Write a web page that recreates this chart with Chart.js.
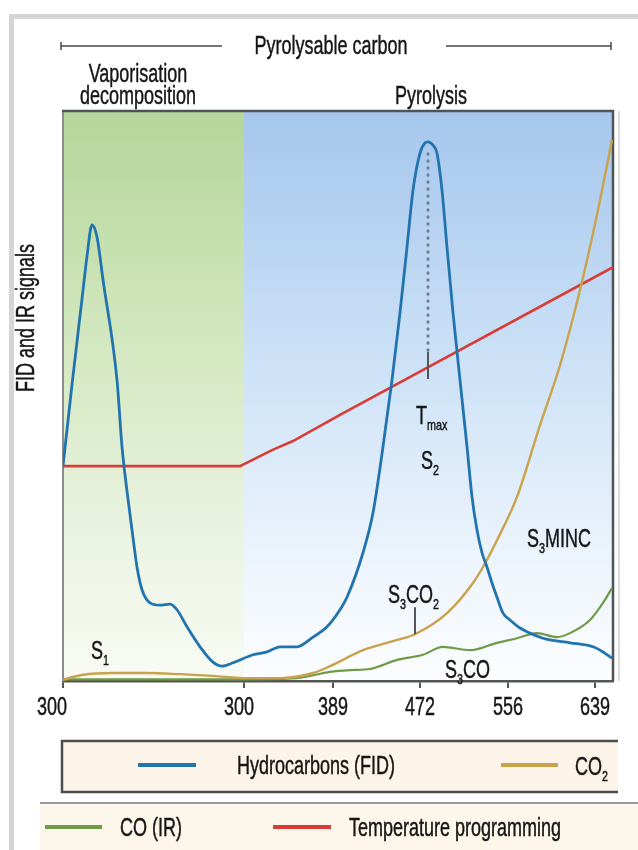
<!DOCTYPE html>
<html>
<head>
<meta charset="utf-8">
<title>Pyrolysis signals</title>
<script src="https://cdn.jsdelivr.net/npm/chart.js"></script>
<style>
  body { margin: 0; background: #fff; }
  canvas { display: block; }
</style>
</head>
<body>
<canvas id="chart" width="638" height="850"></canvas>
<script>
// x axis runs along the temperature programme, ticks are labelled in deg C
const tickPos = [0, 181, 270, 357, 445, 532];
const tickLabels = ['300', '300', '389', '472', '556', '639'];

const fidX = [0, 9, 19, 24, 29, 34, 40, 54, 59, 64, 69, 74, 79, 87, 97, 107, 114, 124, 137, 150, 159, 170, 190, 204, 217, 234, 250, 264, 277, 284, 300, 310, 320, 329, 337, 344, 350, 357, 362, 365, 370, 374, 379, 384, 390, 397, 404, 409, 414, 419, 424, 429, 434, 440, 447, 457, 467, 480, 487, 507, 530, 540, 549];
const fidY = [37.7, 52.0, 67.0, 74.5, 80.0, 77.9, 70.4, 52.8, 41.1, 33.3, 26.5, 20.0, 16.0, 13.7, 13.3, 13.5, 12.5, 9.5, 6.0, 3.3, 2.6, 3.2, 4.6, 5.1, 6.0, 6.0, 7.7, 9.5, 12.5, 14.7, 22.5, 29.5, 41.1, 52.8, 64.6, 76.1, 86.1, 92.6, 94.4, 94.6, 94.0, 92.6, 86.1, 76.1, 64.6, 52.8, 41.1, 32.3, 26.5, 22.5, 20.0, 17.2, 14.7, 11.9, 10.7, 9.3, 8.4, 7.5, 7.2, 6.7, 6.0, 5.1, 4.0];

const co2X = [0, 20, 50, 84, 117, 150, 184, 217, 250, 267, 300, 334, 352, 384, 410, 420, 434, 454, 477, 497, 517, 534, 549];
const co2Y = [0.2, 1.1, 1.4, 1.4, 1.2, 0.9, 0.5, 0.5, 1.4, 2.6, 5.4, 7.2, 8.2, 11.9, 17.2, 20.0, 24.7, 32.3, 44.9, 55.4, 68.6, 81.8, 94.9];

const coX = [0, 87, 184, 234, 267, 287, 307, 334, 360, 380, 407, 434, 454, 474, 494, 507, 527, 540, 549];
const coY = [0.3, 0.3, 0.3, 0.5, 1.6, 1.9, 2.1, 3.7, 4.6, 6.0, 5.4, 6.7, 7.5, 8.4, 7.7, 8.4, 10.7, 13.7, 16.3];

const tempX = [0, 177, 209, 230, 277, 550];
const tempY = [37.7, 37.7, 40.5, 42.1, 46.7, 72.6];

const FONT = '"Liberation Sans", Arial, sans-serif';
const SIZE = 25;
const SQUEEZE = 0.72;

function pts(xs, ys) {
    return xs.map((x, i) => ({ x: x, y: ys[i] }));
}

function say(ctx, s, x, y, size, align) {
    ctx.save();
    ctx.font = size + 'px ' + FONT;
    ctx.fillStyle = '#161616';
    ctx.strokeStyle = '#161616';
    ctx.lineWidth = 0.45;
    ctx.textAlign = align || 'left';
    ctx.textBaseline = 'alphabetic';
    ctx.translate(x, y);
    ctx.scale(SQUEEZE, 1);
    ctx.fillText(s, 0, 0);
    ctx.strokeText(s, 0, 0);
    const w = ctx.measureText(s).width * SQUEEZE;
    ctx.restore();
    return w;
}

// text with subscripts: parts like [['S', 0], ['3', 1], ['CO', 0]]
function sayParts(ctx, parts, x, y, size) {
    let cx = x;
    parts.forEach(p => {
        if (p[1]) cx += say(ctx, p[0], cx, y + 6, Math.round(size * 0.6));
        else cx += say(ctx, p[0], cx, y, size);
    });
}

function hline(ctx, x1, x2, y, color, w) {
    ctx.save();
    ctx.strokeStyle = color;
    ctx.lineWidth = w;
    ctx.beginPath();
    ctx.moveTo(x1, y);
    ctx.lineTo(x2, y);
    ctx.stroke();
    ctx.restore();
}

const decor = {
    id: 'decor',
    beforeDraw(chart) {
        const ctx = chart.ctx;
        const a = chart.chartArea;
        const xs = chart.scales.x;
        ctx.save();
        ctx.fillStyle = '#fff';
        ctx.fillRect(0, 0, chart.width, chart.height);
        // outer grey frame
        ctx.strokeStyle = '#d5d5d5';
        ctx.lineWidth = 5;
        ctx.strokeRect(11.5, 16.5, 800, 900);

        const split = xs.getPixelForValue(tickPos[1]);
        let g = ctx.createLinearGradient(0, a.top, 0, a.bottom);
        g.addColorStop(0, '#b3d699');
        g.addColorStop(0.45, '#d6e9c4');
        g.addColorStop(0.8, '#eef5e6');
        g.addColorStop(1, '#f8fbf4');
        ctx.fillStyle = g;
        ctx.fillRect(a.left, a.top, split - a.left, a.bottom - a.top);
        g = ctx.createLinearGradient(0, a.top, 0, a.bottom);
        g.addColorStop(0, '#a5c6ec');
        g.addColorStop(0.45, '#cde2f7');
        g.addColorStop(0.8, '#eef5fc');
        g.addColorStop(1, '#fcfdff');
        ctx.fillStyle = g;
        ctx.fillRect(split, a.top, a.right - split, a.bottom - a.top);

        // light shadow right of the plot
        ctx.strokeStyle = '#dcdcdc';
        ctx.lineWidth = 2;
        ctx.beginPath();
        ctx.moveTo(a.right + 6, a.top);
        ctx.lineTo(a.right + 6, a.bottom);
        ctx.stroke();
        ctx.restore();
    },
    beforeDatasetsDraw(chart) {
        const ctx = chart.ctx;
        const a = chart.chartArea;
        ctx.save();
        ctx.lineWidth = 2;
        ctx.strokeStyle = '#8c8c8c';
        ctx.beginPath();
        ctx.moveTo(a.left, a.bottom);
        ctx.lineTo(a.left, a.top);
        ctx.stroke();
        ctx.strokeStyle = '#4f5459';
        ctx.lineWidth = 2.5;
        ctx.beginPath();
        ctx.moveTo(a.left - 1, a.top);
        ctx.lineTo(a.right, a.top);
        ctx.lineTo(a.right, a.bottom);
        ctx.stroke();
        ctx.restore();
    },
    afterDraw(chart) {
        const ctx = chart.ctx;
        const xs = chart.scales.x;
        const ys = chart.scales.y;

        // tick labels (the first two sit a little left of their ticks)
        const nudge = [-11, -5, 0, 0, 0, 0];
        tickPos.forEach((v, i) => {
            say(ctx, tickLabels[i], xs.getPixelForValue(v) + nudge[i], 715, SIZE, 'center');
        });

        // Tmax marker from the S2 peak
        let top = 0;
        fidY.forEach((v, i) => { if (i > 30 && v > fidY[top]) top = i; });
        const px = xs.getPixelForValue(fidX[top]);
        const py = ys.getPixelForValue(fidY[top]);
        ctx.save();
        ctx.strokeStyle = '#6f7f8f';
        ctx.lineWidth = 3;
        ctx.lineCap = 'round';
        ctx.setLineDash([0.5, 6.5]);
        ctx.beginPath();
        ctx.moveTo(px, py + 12);
        ctx.lineTo(px, 352);
        ctx.stroke();
        ctx.setLineDash([]);
        ctx.lineCap = 'butt';
        ctx.strokeStyle = '#555';
        ctx.lineWidth = 2;
        ctx.beginPath();
        ctx.moveTo(px, 352);
        ctx.lineTo(px, 379);
        ctx.stroke();
        // S3CO2 marker on the CO2 curve
        const mi = co2X.indexOf(352);
        const mx = xs.getPixelForValue(co2X[mi]);
        const my = ys.getPixelForValue(co2Y[mi]);
        ctx.beginPath();
        ctx.moveTo(mx, my);
        ctx.lineTo(mx, my - 27);
        ctx.stroke();
        ctx.restore();

        // curve labels
        sayParts(ctx, [['S', 0], ['1', 1]], 91, 659, SIZE);
        sayParts(ctx, [['T', 0], ['max', 1]], 416, 424, SIZE);
        sayParts(ctx, [['S', 0], ['2', 1]], 421, 469, SIZE);
        sayParts(ctx, [['S', 0], ['3', 1], ['MINC', 0]], 527, 547, SIZE);
        sayParts(ctx, [['S', 0], ['3', 1], ['CO', 0], ['2', 1]], 388, 603, SIZE);
        sayParts(ctx, [['S', 0], ['3', 1], ['CO', 0]], 445, 678, SIZE);

        // headings above the plot
        ctx.save();
        ctx.strokeStyle = '#4a4a4a';
        ctx.lineWidth = 1.5;
        ctx.beginPath();
        ctx.moveTo(61, 46); ctx.lineTo(222, 46);
        ctx.moveTo(61, 42); ctx.lineTo(61, 50);
        ctx.moveTo(446, 46); ctx.lineTo(611, 46);
        ctx.moveTo(611, 42); ctx.lineTo(611, 50);
        ctx.stroke();
        ctx.restore();
        say(ctx, 'Pyrolysable carbon', 331, 54, SIZE, 'center');
        say(ctx, 'Vaporisation', 138, 82, SIZE, 'center');
        say(ctx, 'decomposition', 138, 104, SIZE, 'center');
        say(ctx, 'Pyrolysis', 431, 104, SIZE, 'center');

        // y axis title
        ctx.save();
        ctx.translate(34, 318);
        ctx.rotate(-Math.PI / 2);
        say(ctx, 'FID and IR signals', 0, 0, SIZE, 'center');
        ctx.restore();

        // legend boxes
        const ds = chart.data.datasets;
        ctx.save();
        ctx.fillStyle = '#fcf4e9';
        ctx.fillRect(62, 741, 556, 51);
        ctx.strokeStyle = '#4d4d4d';
        ctx.lineWidth = 2.5;
        ctx.beginPath();
        ctx.moveTo(618, 741); ctx.lineTo(62, 741); ctx.lineTo(62, 792); ctx.lineTo(618, 792);
        ctx.stroke();
        ctx.fillStyle = '#fdf6ea';
        ctx.fillRect(40, 804, 598, 46);
        ctx.restore();
        hline(ctx, 40, 638, 803, '#9a9a9a', 2);

        hline(ctx, 138, 196, 765, ds[0].borderColor, 4);
        say(ctx, ds[0].label, 237, 774, SIZE);
        hline(ctx, 501, 558, 765, ds[1].borderColor, 4);
        sayParts(ctx, [['CO', 0], ['2', 1]], 575, 775, SIZE);
        hline(ctx, 45, 102, 827, ds[2].borderColor, 4);
        say(ctx, ds[2].label, 120, 836, SIZE);
        hline(ctx, 273, 331, 827, ds[3].borderColor, 4);
        say(ctx, ds[3].label, 349, 836, SIZE);
    }
};

new Chart(document.getElementById('chart'), {
    type: 'line',
    data: {
        datasets: [{
            label: 'Hydrocarbons (FID)',
            data: pts(fidX, fidY),
            borderColor: '#2274ae',
            borderWidth: 2.8,
            cubicInterpolationMode: 'monotone'
        }, {
            label: 'CO2',
            data: pts(co2X, co2Y),
            borderColor: '#c9a24c',
            borderWidth: 2.4,
            cubicInterpolationMode: 'monotone'
        }, {
            label: 'CO (IR)',
            data: pts(coX, coY),
            borderColor: '#6f9b46',
            borderWidth: 2.2,
            cubicInterpolationMode: 'monotone'
        }, {
            label: 'Temperature programming',
            data: pts(tempX, tempY),
            borderColor: '#d83c36',
            borderWidth: 2.6,
            tension: 0
        }]
    },
    options: {
        responsive: false,
        animation: false,
        events: [],
        layout: { padding: { left: 63, right: 25, top: 111, bottom: 162 } },
        elements: { point: { radius: 0 } },
        plugins: { legend: { display: false }, tooltip: { enabled: false } },
        scales: {
            x: {
                type: 'linear',
                min: 0,
                max: 550,
                afterBuildTicks: s => { s.ticks = tickPos.map(v => ({ value: v })); },
                afterFit: s => { s.height = 7; },
                ticks: { display: false },
                grid: { drawOnChartArea: false, tickLength: 7, color: '#555', lineWidth: 2 },
                border: { color: '#555', width: 2.5 }
            },
            y: { display: false, min: 0, max: 100 }
        }
    },
    plugins: [decor]
});
</script>
</body>
</html>
